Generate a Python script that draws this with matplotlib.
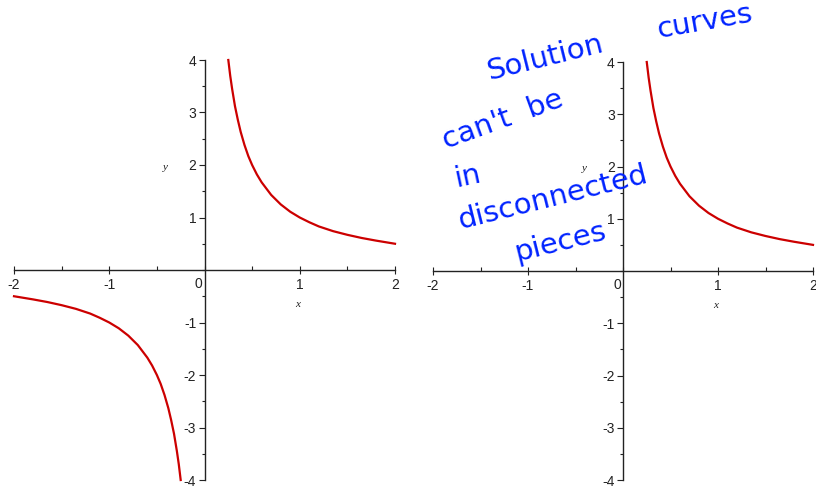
import matplotlib
matplotlib.use("Agg")
import matplotlib.pyplot as plt
from matplotlib.ticker import MultipleLocator

# ---- data (y = 1/x branches) ----
x_pos = [0.25, 0.27, 0.29, 0.32, 0.35, 0.38, 0.42, 0.46, 0.5, 0.55, 0.6, 0.7, 0.8, 0.9,
         1.0, 1.1, 1.2, 1.35, 1.5, 1.65, 1.8, 2.0]
y_pos = [4.0, 3.7, 3.45, 3.12, 2.86, 2.63, 2.38, 2.17, 2.0, 1.82, 1.67, 1.43, 1.25, 1.11,
         1.0, 0.91, 0.83, 0.74, 0.67, 0.61, 0.56, 0.5]
x_neg = [-2.0, -1.8, -1.65, -1.5, -1.35, -1.2, -1.1, -1.0, -0.9, -0.8, -0.7, -0.6, -0.55,
         -0.5, -0.46, -0.42, -0.38, -0.35, -0.32, -0.29, -0.27, -0.25]
y_neg = [-0.5, -0.56, -0.61, -0.67, -0.74, -0.83, -0.91, -1.0, -1.11, -1.25, -1.43, -1.67,
         -1.82, -2.0, -2.17, -2.38, -2.63, -2.86, -3.12, -3.45, -3.7, -4.0]

x_ticks = [-2, -1, 1, 2]
y_ticks = [-4, -3, -2, -1, 1, 2, 3, 4]

notes = [
    ("Solution", 545, 58, 14),
    ("curves", 705, 22, 10),
    ("can't  be", 503, 120, 20),
    ("in", 468, 176, 12),
    ("disconnected", 553, 198, 14),
    ("pieces", 560, 242, 14),
]

RED = "#cc0000"
FONT = "Liberation Sans"

fig = plt.figure(figsize=(8.16, 4.9), dpi=100)
fig.patch.set_facecolor("white")

W, H = 816.0, 490.0
rects = [
    (14 / W, 1 - 480 / H, 381 / W, 420 / H),
    (433 / W, 1 - 480 / H, 380 / W, 418 / H),
]


def style_axes(ax):
    ax.set_xlim(-2, 2)
    ax.set_ylim(-4, 4)
    for s in ("top", "right"):
        ax.spines[s].set_visible(False)
    ax.spines["left"].set_position(("data", 0))
    ax.spines["bottom"].set_position(("data", 0))
    for s in ("left", "bottom"):
        ax.spines[s].set_linewidth(1.0)
        ax.spines[s].set_color("#222222")
    ax.set_xticks(x_ticks)
    ax.set_yticks(y_ticks)
    ax.xaxis.set_minor_locator(MultipleLocator(0.5))
    ax.yaxis.set_minor_locator(MultipleLocator(0.5))
    ax.tick_params(axis="x", which="major", direction="inout", length=6, width=0.8,
                   pad=3, labelsize=10, colors="#222222")
    ax.tick_params(axis="x", which="minor", direction="in", length=3, width=0.8,
                   colors="#222222")
    ax.tick_params(axis="y", which="major", direction="out", length=4, width=0.8,
                   pad=2, labelsize=10, colors="#222222")
    ax.tick_params(axis="y", which="minor", direction="out", length=2.5, width=0.8,
                   colors="#222222")
    ax.set_xticklabels([str(t) for t in x_ticks])
    ax.set_yticklabels([str(t) for t in y_ticks])
    for lab in ax.get_xticklabels():
        lab.set_fontfamily(FONT)
    for lab in ax.get_yticklabels():
        lab.set_fontfamily(FONT)
        lab.set_verticalalignment("center_baseline")
    ax.text(-0.06, -0.13, "0", ha="center", va="top", fontsize=10, family=FONT,
            color="#222222")
    ax.text(0.98, -0.66, "x", ha="center", va="center", fontsize=8, family="Liberation Serif",
            style="italic", color="#222222")
    ax.text(-0.41, 1.96, "y", ha="center", va="center", fontsize=8, family="Liberation Serif",
            style="italic", color="#222222")
    ax.patch.set_alpha(0)


ax1 = fig.add_axes(rects[0])
style_axes(ax1)
ax1.plot(x_pos, y_pos, color=RED, lw=1.6, clip_on=False)
ax1.plot(x_neg, y_neg, color=RED, lw=1.6, clip_on=False)

ax2 = fig.add_axes(rects[1])
style_axes(ax2)
ax2.plot(x_pos, y_pos, color=RED, lw=1.6, clip_on=False)

for txt, px, py, rot in notes:
    fig.text(px / W, 1 - py / H, txt, ha="center", va="center", fontsize=21,
             family="DejaVu Sans", color="#0022ff", rotation=rot)

fig.savefig("out.png", dpi=100)
